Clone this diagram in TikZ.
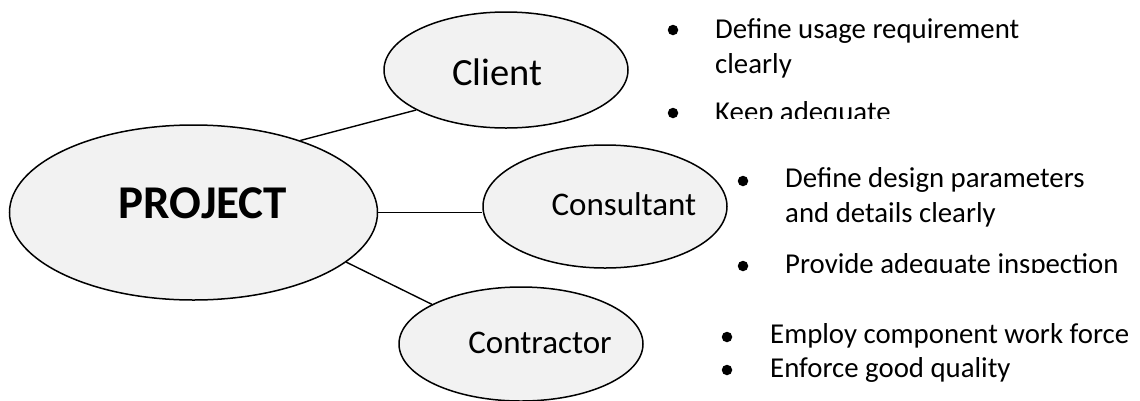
\documentclass[tikz,border=0pt]{standalone}
\usepackage{fontspec}
\setmainfont{Carlito}
\usetikzlibrary{shapes.geometric}
\definecolor{bubblegray}{HTML}{F2F2F2}

\begin{document}
\begin{tikzpicture}[
	x=1pt, y=-1pt,
	bubble/.style={ ellipse, draw, line width=1.5pt, fill=bubblegray, inner sep=0pt, minimum width=244pt, minimum height=116pt },
	bubbletext/.style={ anchor=base, inner sep=0pt, font=\fontsize{33}{40}\selectfont },
	itemtext/.style={ anchor=base west, inner sep=0pt, align=left, font=\fontsize{28.8}{35}\selectfont },
	bulletdot/.style={ circle, fill, inner sep=0pt, minimum size=10.5pt },
	linkline/.style={ line width=1.4pt }
]

\useasboundingbox (0,0) rectangle (1140,400);

\node at (193.5,212.5) (project) [bubble,minimum width=368pt,minimum height=175pt] {};
\node at (203,218) (projectname) [bubbletext,font=\fontsize{47}{50}\selectfont\bfseries] {PROJECT};
\node at (506,70) (client) [bubble] {};
\node at (497.5,85) (clientname) [bubbletext,font=\fontsize{38.5}{44}\selectfont] {Client};
\node at (605,206.5) (consultant) [bubble,minimum height=123pt] {};
\node at (624,215) (consultantname) [bubbletext] {Consultant};
\node at (521,344) (contractor) [bubble,minimum height=114pt] {};
\node at (540,353) (contractorname) [bubbletext] {Contractor};

\draw[linkline] (project.34.7) -- (client.204.8);
\draw[linkline] (project.east) -- (project.east -| consultant.west);
\draw[linkline] (project.-18.8) -- (contractor.156.8);

\begin{scope}
\clip (650,0) rectangle (1140,118);
\node at (673,30) (clientdot1) [bulletdot] {};
\node at (715,73) (clientitem1) [itemtext] {Define usage requirement\\clearly};
\node at (673,113) (clientdot2) [bulletdot] {};
\node at (715,121) (clientitem2) [itemtext] {Keep adequate};
\end{scope}

\begin{scope}
\clip (732,140) rectangle (1140,272);
\node at (743,181) (consultantdot1) [bulletdot] {};
\node at (785,222) (consultantitem1) [itemtext] {Define design parameters\\and details clearly};
\node at (743,266) (consultantdot2) [bulletdot] {};
\node at (785,273) (consultantitem2) [itemtext] {Provide adequate inspection};
\end{scope}

\node at (727,337) (contractordot1) [bulletdot] {};
\node at (770,343) (contractoritem1) [itemtext] {Employ component work force};
\node at (727,370) (contractordot2) [bulletdot] {};
\node at (770,377) (contractoritem2) [itemtext] {Enforce good quality};

\end{tikzpicture}
\end{document}
